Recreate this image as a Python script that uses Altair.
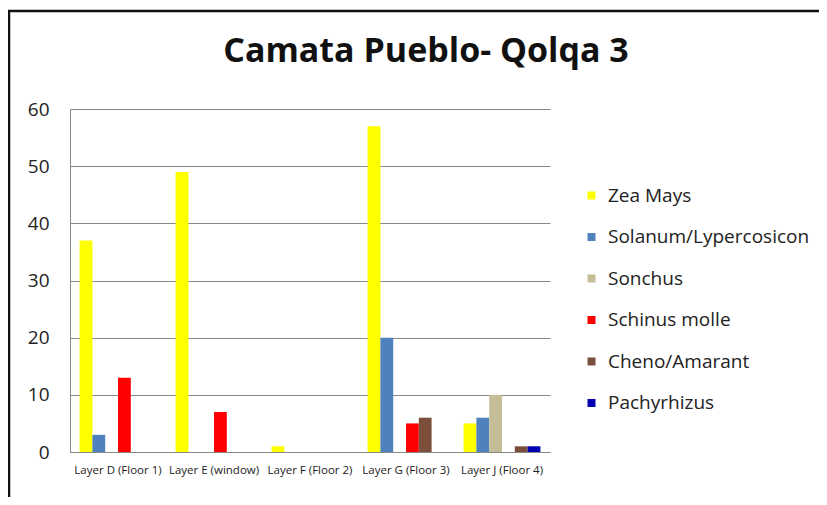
import altair as alt
import pandas as pd

categories = ["Layer D (Floor 1)", "Layer E (window)", "Layer F (Floor 2)",
              "Layer G (Floor 3)", "Layer J (Floor 4)"]
series = ["Zea Mays", "Solanum/Lypercosicon", "Sonchus", "Schinus molle",
          "Cheno/Amarant", "Pachyrhizus"]
colors = ["#FFFF00", "#4F81BD", "#C4BD97", "#FF0000", "#7B4F3C", "#0000B0"]

zea_mays = [37, 49, 1, 57, 5]
solanum = [3, 0, 0, 20, 6]
sonchus = [0, 0, 0, 0, 10]
schinus = [13, 7, 0, 5, 0]
cheno = [0, 0, 0, 6, 1]
pachyrhizus = [0, 0, 0, 0, 1]

values = [zea_mays, solanum, sonchus, schinus, cheno, pachyrhizus]
rows = []
for s, vals in zip(series, values):
    for c, v in zip(categories, vals):
        rows.append({"Layer": c, "Taxon": s, "Count": v})
df = pd.DataFrame(rows)

FONT = "Open Sans"

bars = alt.Chart(df).mark_bar().encode(
    x=alt.X("Layer:N", sort=categories, title=None,
            scale=alt.Scale(paddingInner=0.2, paddingOuter=0.1),
            axis=alt.Axis(labelAngle=0, labelFont=FONT, labelFontSize=11.5,
                          labelColor="#222", labelPadding=12, ticks=False,
                          domainColor="#888", domainWidth=1, grid=False)),
    xOffset=alt.XOffset("Taxon:N", sort=series,
                        scale=alt.Scale(paddingInner=0, paddingOuter=0)),
    y=alt.Y("Count:Q", title=None,
            scale=alt.Scale(domain=[0, 60]),
            axis=alt.Axis(values=[0, 10, 20, 30, 40, 50, 60], labelFont=FONT,
                          labelFontSize=19, labelColor="#222", labelPadding=21,
                          ticks=False, domainColor="#888", domainWidth=1,
                          grid=True, gridColor="#888", gridWidth=1)),
    color=alt.Color("Taxon:N", sort=series,
                    scale=alt.Scale(domain=series, range=colors),
                    legend=alt.Legend(title=None, orient="none",
                                      legendX=512, legendY=77,
                                      symbolType="square", symbolSize=64,
                                      symbolStrokeWidth=0,
                                      labelFont=FONT, labelFontSize=19,
                                      labelColor="#222", labelOffset=7,
                                      rowPadding=21.5, labelLimit=400)),
)

frame = alt.Chart(pd.DataFrame({"k": [0]})).mark_rect(
    fill=None, stroke="#111", strokeWidth=2.5
).encode(x=alt.value(-61), x2=alt.value(900), y=alt.value(-98), y2=alt.value(600))

chart = alt.layer(frame, bars).properties(
    width=480, height=343,
    title=alt.TitleParams("Camata Pueblo- Qolqa 3", font=FONT, fontSize=34,
                          fontWeight="bold", color="#111", anchor="middle",
                          frame="group", dx=116, baseline="alphabetic",
                          offset=-86),
    autosize=alt.AutoSizeParams(type="none"),
    padding={"left": 62, "top": 101, "right": 269, "bottom": 45},
).configure_view(stroke=None)

chart.save("out.html", embed_options={"renderer": "svg", "actions": False})
